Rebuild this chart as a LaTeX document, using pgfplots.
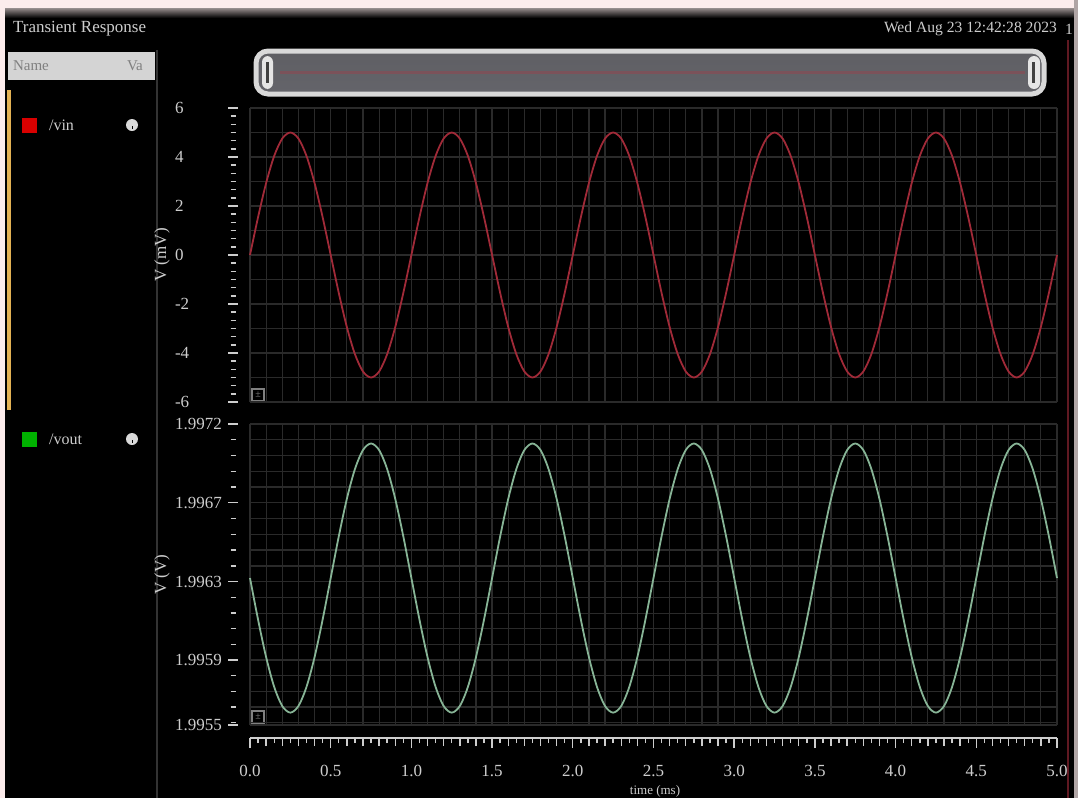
\documentclass[border=0pt]{standalone}
\usepackage{fontspec}
\setmainfont{Liberation Serif}
\usepackage{pgfplots}
\pgfplotsset{compat=1.18}
\usepackage{pgfplotstable}

\definecolor{vinc}{RGB}{160,42,56}
\definecolor{voutc}{RGB}{135,180,150}
\definecolor{gridc}{RGB}{42,42,42}
\definecolor{txt}{RGB}{205,205,205}
\definecolor{edge}{RGB}{252,236,236}
\definecolor{hdr}{RGB}{212,212,212}
\definecolor{sbtop}{RGB}{95,95,100}
\definecolor{sbmid}{RGB}{140,122,124}
\definecolor{sbbot}{RGB}{100,100,106}
\definecolor{orng}{RGB}{228,178,84}

% /vin in mV
\pgfplotstableread{
t vin
0.00 0
0.05 1.545
0.10 2.939
0.15 4.045
0.20 4.755
0.25 5
0.30 4.755
0.35 4.045
0.40 2.939
0.45 1.545
0.50 0
0.55 -1.545
0.60 -2.939
0.65 -4.045
0.70 -4.755
0.75 -5
0.80 -4.755
0.85 -4.045
0.90 -2.939
0.95 -1.545
1.00 0
1.05 1.545
1.10 2.939
1.15 4.045
1.20 4.755
1.25 5
1.30 4.755
1.35 4.045
1.40 2.939
1.45 1.545
1.50 0
1.55 -1.545
1.60 -2.939
1.65 -4.045
1.70 -4.755
1.75 -5
1.80 -4.755
1.85 -4.045
1.90 -2.939
1.95 -1.545
2.00 0
2.05 1.545
2.10 2.939
2.15 4.045
2.20 4.755
2.25 5
2.30 4.755
2.35 4.045
2.40 2.939
2.45 1.545
2.50 0
2.55 -1.545
2.60 -2.939
2.65 -4.045
2.70 -4.755
2.75 -5
2.80 -4.755
2.85 -4.045
2.90 -2.939
2.95 -1.545
3.00 0
3.05 1.545
3.10 2.939
3.15 4.045
3.20 4.755
3.25 5
3.30 4.755
3.35 4.045
3.40 2.939
3.45 1.545
3.50 0
3.55 -1.545
3.60 -2.939
3.65 -4.045
3.70 -4.755
3.75 -5
3.80 -4.755
3.85 -4.045
3.90 -2.939
3.95 -1.545
4.00 0
4.05 1.545
4.10 2.939
4.15 4.045
4.20 4.755
4.25 5
4.30 4.755
4.35 4.045
4.40 2.939
4.45 1.545
4.50 0
4.55 -1.545
4.60 -2.939
4.65 -4.045
4.70 -4.755
4.75 -5
4.80 -4.755
4.85 -4.045
4.90 -2.939
4.95 -1.545
5.00 0
}\vintable

% /vout in microvolts above 1.99550 V
\pgfplotstableread{
t vout
0.00 830
0.05 595
0.10 383
0.15 215
0.20 107
0.25 70
0.30 107
0.35 215
0.40 383
0.45 595
0.50 830
0.55 1065
0.60 1277
0.65 1445
0.70 1553
0.75 1590
0.80 1553
0.85 1445
0.90 1277
0.95 1065
1.00 830
1.05 595
1.10 383
1.15 215
1.20 107
1.25 70
1.30 107
1.35 215
1.40 383
1.45 595
1.50 830
1.55 1065
1.60 1277
1.65 1445
1.70 1553
1.75 1590
1.80 1553
1.85 1445
1.90 1277
1.95 1065
2.00 830
2.05 595
2.10 383
2.15 215
2.20 107
2.25 70
2.30 107
2.35 215
2.40 383
2.45 595
2.50 830
2.55 1065
2.60 1277
2.65 1445
2.70 1553
2.75 1590
2.80 1553
2.85 1445
2.90 1277
2.95 1065
3.00 830
3.05 595
3.10 383
3.15 215
3.20 107
3.25 70
3.30 107
3.35 215
3.40 383
3.45 595
3.50 830
3.55 1065
3.60 1277
3.65 1445
3.70 1553
3.75 1590
3.80 1553
3.85 1445
3.90 1277
3.95 1065
4.00 830
4.05 595
4.10 383
4.15 215
4.20 107
4.25 70
4.30 107
4.35 215
4.40 383
4.45 595
4.50 830
4.55 1065
4.60 1277
4.65 1445
4.70 1553
4.75 1590
4.80 1553
4.85 1445
4.90 1277
4.95 1065
5.00 830
}\vouttable

\pgfplotsset{
  vstyle/.style={
    scale only axis,
    width=403.5pt,
    xmin=0, xmax=5,
    axis x line*=bottom, axis y line*=left,
    axis y line shift=8.5pt,
    y axis line style={draw=none},
    tick style={draw=txt, line width=0.7pt},
    tick align=center,
    major tick length=5pt,
    minor tick length=2.5pt,
    grid=major,
    major grid style={gridc, line width=0.6pt},
    tick label style={font=\fontsize{8.5}{10}\selectfont, text=txt},
    /pgf/number format/assume math mode=true,
    yticklabel style={anchor=west, xshift=-30pt},
    every axis y label/.style={at={(rel axis cs:0,0.5)}, xshift=-44pt, rotate=90, anchor=center, font=\fontsize{8.5}{10}\selectfont, text=txt},
    clip=false,
  }
}

\begin{document}
\begin{tikzpicture}
\begin{scope}[x=0.5pt,y=-0.5pt]
\useasboundingbox (0,0) rectangle (1078,798);
\fill[black] (0,0) rectangle (1078,798);
\fill[edge] (0,0) rectangle (1078,8);
\shade[top color=edge!60!black, bottom color=black] (0,8) rectangle (1078,18);
\fill[edge] (0,0) rectangle (5,798);
\fill[edge!70!black] (1074,0) rectangle (1078,798);
\draw[vinc!60!black, line width=1pt] (1068,40) -- (1068,798);
% title bar
\node[anchor=west, text=txt, font=\fontsize{8.5}{10}\selectfont] at (6,29) {Transient Response};
\node[anchor=east, text=txt, font=\fontsize{7.8}{9}\selectfont] at (1064,29) {Wed Aug 23 12:42:28 2023};
\node[text=txt, font=\fontsize{7.8}{9}\selectfont, inner sep=0pt] at (1069,29) {1};
% left panel
\fill[hdr] (8,52) rectangle (155,80);
\node[anchor=west, text=gray, font=\fontsize{7.5}{9}\selectfont] at (6,66) {Name};
\node[anchor=west, text=gray, font=\fontsize{7.5}{9}\selectfont] at (120,66) {Va};
\draw[gray!40!black, line width=1pt] (157,50) -- (157,798);
\fill[orng] (7,90) rectangle (11,410);
\fill[red!85!black] (22,118) rectangle (37,133);
\node[anchor=west, text=txt, font=\fontsize{8}{9}\selectfont] at (42,125) {/vin};
\fill[white!85!black] (132,125) circle (6);
\fill[black] (132,126) rectangle (133,129);
\fill[green!70!black] (22,432) rectangle (37,447);
\node[anchor=west, text=txt, font=\fontsize{8}{9}\selectfont] at (42,439) {/vout};
\fill[white!85!black] (132,439) circle (6);
\fill[black] (132,440) rectangle (133,443);
% scrollbar
\shade[top color=sbtop, middle color=sbmid, bottom color=sbbot, rounded corners=5pt] (258,53) rectangle (1042,92);
\draw[white!85!black, line width=2.5pt, rounded corners=6pt] (256,51) rectangle (1044,94);
\fill[white!90!black, rounded corners=3pt] (262,56) rectangle (273,89);
\fill[gray!50!black] (266,62) rectangle (269,83);
\fill[white!90!black, rounded corners=3pt] (1028,56) rectangle (1040,89);
\fill[gray!50!black] (1032,62) rectangle (1035,83);
\draw[vinc!70!gray, line width=1.5pt, opacity=0.5] (280,72) -- (1025,72);
% scale boxes
\draw[gray, line width=0.6pt] (252,389) rectangle (264,401);
\node[text=gray, font=\fontsize{5}{5}\selectfont, inner sep=0pt] at (258,395) {±};
\draw[gray, line width=0.6pt] (252,711) rectangle (264,723);
\node[text=gray, font=\fontsize{5}{5}\selectfont, inner sep=0pt] at (258,717) {±};
% x label
\node[text=txt, font=\fontsize{6.5}{7}\selectfont, inner sep=0pt] at (655,791) {time (ms)};
\end{scope}

% top axis: /vin
\begin{axis}[vstyle,
  at={(125pt,-201pt)}, anchor=south west,
  height=147pt,
  ymin=-6, ymax=6,
  x axis line style={draw=none},
  xtick={0,0.1,...,5.01}, xticklabels={}, xtick style={draw=none},
  ytick={-6,-4,...,6}, yticklabels={-6,-4,-2,0,2,4,6},
  minor y tick num=5,
  extra y ticks={-5,-3,-1,1,3,5}, extra y tick labels={},
  extra y tick style={grid=major, major tick length=2.5pt},
  ylabel={V (mV)},
]
\addplot[vinc, line width=0.9pt, smooth] table[x=t, y=vin] {\vintable};
\end{axis}

% bottom axis: /vout
\begin{axis}[vstyle,
  at={(125pt,-362.5pt)}, anchor=south west,
  height=150.5pt,
  ymin=0, ymax=1700,
  axis x line shift=6.5pt,
  x axis line style={draw=txt, line width=1pt},
  xtick={0,0.5,...,5.01},
  xticklabels={0.0,0.5,1.0,1.5,2.0,2.5,3.0,3.5,4.0,4.5,5.0},
  minor x tick num=9,
  xtick align=outside,
  xticklabel style={yshift=-5pt},
  extra x ticks={0.1,0.2,0.3,0.4,0.6,0.7,0.8,0.9,1.1,1.2,1.3,1.4,1.6,1.7,1.8,1.9,2.1,2.2,2.3,2.4,2.6,2.7,2.8,2.9,3.1,3.2,3.3,3.4,3.6,3.7,3.8,3.9,4.1,4.2,4.3,4.4,4.6,4.7,4.8,4.9},
  extra x tick labels={},
  extra x tick style={grid=major, major tick length=4pt},
  ytick={0,367,809,1255,1700},
  yticklabels={1.9955,1.9959,1.9963,1.9967,1.9972},
  minor y tick num=9,
  extra y ticks={13,102,190,279,455,544,632,721,898,988,1077,1166,1344,1433,1522,1611},
  extra y tick labels={},
  extra y tick style={grid=major, major tick length=2.5pt},
  ylabel={V (V)},
]
\addplot[voutc, line width=0.9pt, smooth] table[x=t, y=vout] {\vouttable};
\end{axis}
\end{tikzpicture}
\end{document}
